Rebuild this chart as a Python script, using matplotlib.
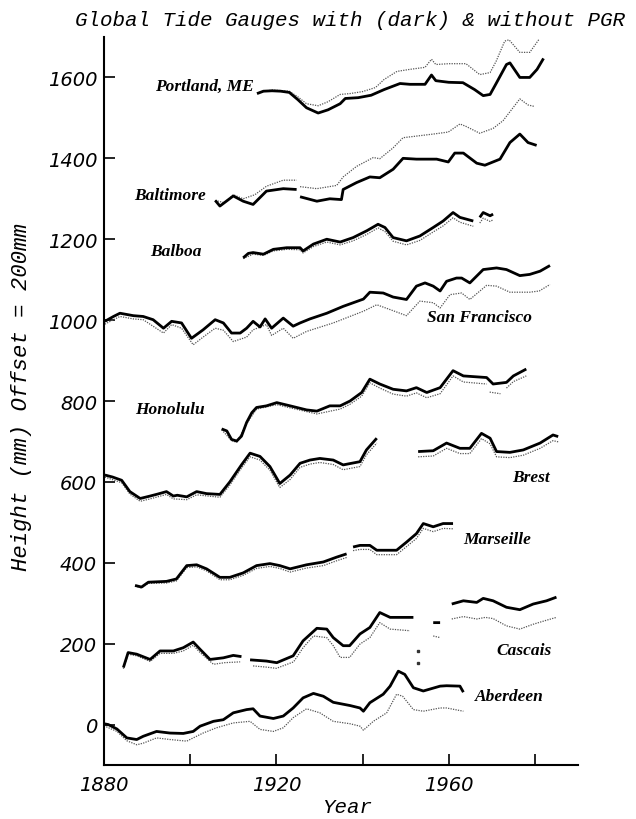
import numpy as np
import matplotlib
matplotlib.use("Agg")
import matplotlib.pyplot as plt

nan = np.nan

# Dados: (ano, altura em mm, já com offset de 200mm entre estações)
# "dark" = com correção PGR, "light" = sem correção
portland_dark_x = [1915.5, 1917, 1919, 1921, 1923, 1925, 1927, 1929.7, 1932, 1934.8, 1936, 1939, 1942, 1945,
                   1948.7, 1951, 1954.5, 1956, 1957, 1960, 1963.3, 1966, 1968, 1969.6, 1971, 1973.4, 1974.2,
                   1976.5, 1978.8, 1980.5, 1982]
portland_dark_y = [1560, 1566, 1567, 1566, 1563, 1545, 1525, 1512, 1520, 1535, 1548, 1550, 1556, 1570,
                   1585, 1583, 1583, 1606, 1592, 1588, 1587, 1570, 1555, 1558, 1585, 1632, 1636,
                   1600, 1600, 1620, 1647]
portland_light_x = [1915.5, 1919, 1923, 1925, 1927, 1929.7, 1932, 1934.8, 1937, 1940, 1943, 1945, 1948, 1951,
                    1954.5, 1956, 1957, 1960, 1964, 1967.2, 1969.6, 1971, 1973, 1974, 1976.5, 1978.8, 1981]
portland_light_y = [1562, 1569, 1566, 1552, 1535, 1530, 1540, 1558, 1560, 1565, 1575, 1595, 1615, 1620,
                    1625, 1645, 1632, 1634, 1634, 1607, 1612, 1640, 1690, 1693, 1662, 1662, 1695]

baltimore_dark_x = [1905.8, 1906.9, 1910, 1912.3, 1914.6, 1917.7, 1921.6, 1924.7, nan, 1925.5, 1929.4, 1932.4,
                    1935.1, 1935.5, 1938.6, 1941.7, 1944, 1947.1, 1949.4, 1952.5, 1957.2, 1959.9, 1961.4,
                    1963.4, 1966.5, 1968.4, 1971.9, 1974.2, 1976.5, 1978.4, 1980.4]
baltimore_dark_y = [1296, 1282, 1307, 1294, 1286, 1319, 1325, 1323, nan, 1305, 1294, 1300,
                    1298, 1323, 1340, 1354, 1352, 1373, 1400, 1398, 1398, 1391, 1413,
                    1413, 1388, 1383, 1398, 1439, 1460, 1439, 1432]
baltimore_light_x = [1905.8, 1908, 1910, 1912.3, 1915, 1917.7, 1921.6, 1924.7, nan, 1925.5, 1929.4, 1934,
                     1935.5, 1938.6, 1942.5, 1944, 1947.1, 1949.4, 1956.4, 1959.9, 1962.6, 1964, 1967.2,
                     1970.3, 1972.6, 1976.5, 1978.4, 1980]
baltimore_light_y = [1296, 1290, 1310, 1300, 1310, 1331, 1346, 1346, nan, 1330, 1325, 1333,
                     1354, 1380, 1402, 1399, 1426, 1451, 1460, 1465, 1485, 1479, 1462,
                     1474, 1493, 1547, 1532, 1528]

balboa_dark_x = [1912.3, 1913.5, 1914.6, 1917, 1919.3, 1922.4, 1925.5, 1926.2, 1928.6, 1931.7, 1934.8, 1937.8,
                 1941, 1943.6, 1945.2, 1947.1, 1950.2, 1953.3, 1956.4, 1958.7, 1961, 1962.6, 1965.7, nan,
                 1967.2, 1968, 1969.6, 1970.3]
balboa_dark_y = [1154, 1165, 1167, 1163, 1175, 1179, 1179, 1171, 1188, 1200, 1193, 1204,
                 1221, 1237, 1229, 1204, 1196, 1208, 1229, 1245, 1266, 1254, 1245, nan,
                 1254, 1266, 1258, 1262]
balboa_light_x = [1912.3, 1914.6, 1917, 1919.3, 1922.4, 1925.5, 1926.2, 1928.6, 1931.7, 1934.8, 1937.8,
                  1941, 1943.6, 1945.2, 1947.1, 1950.2, 1953.3, 1956.4, 1958.7, 1961, 1962.6, 1965.7, nan,
                  1967.2, 1968, 1969.6, 1970.3]
balboa_light_y = [1152, 1163, 1160, 1171, 1175, 1174, 1166, 1182, 1193, 1186, 1196,
                  1212, 1228, 1219, 1195, 1186, 1197, 1218, 1233, 1253, 1242, 1232, nan,
                  1240, 1252, 1244, 1248]

sf_dark_x = [1880.2, 1882.2, 1883.7, 1886.8, 1889.1, 1891.4, 1893.8, 1895.7, 1898, 1900.3, 1903, 1905.8,
             1907.7, 1909.6, 1911.6, 1913.1, 1914.6, 1916.2, 1917.4, 1918.9, 1921.6, 1923.9, 1925.5, 1927.8,
             1931.7, 1935.5, 1940.2, 1941.7, 1944.8, 1947.1, 1950.2, 1952.5, 1954.5, 1956.4, 1958, 1959.5,
             1961.8, 1963, 1964.9, 1968, 1971.1, 1973.4, 1976.5, 1978.8, 1981.2, 1983.5]
sf_dark_y = [997, 1009, 1017, 1011, 1009, 1001, 980, 997, 993, 955, 976, 1001,
             993, 968, 968, 980, 997, 983, 1003, 980, 1005, 985, 993, 1003,
             1017, 1034, 1052, 1069, 1067, 1057, 1051, 1084, 1092, 1084, 1072, 1096,
             1104, 1104, 1092, 1125, 1129, 1125, 1110, 1113, 1121, 1135]
sf_light_x = [1880.2, 1882, 1883.7, 1886.8, 1889.1, 1893.8, 1895.7, 1898, 1900.7, 1903, 1905.8, 1907.7,
              1910, 1913.1, 1914.6, 1917.7, 1918.9, 1921.6, 1923.9, 1927, 1933.2, 1940.2, 1943.3, 1946.4,
              1950.2, 1953.3, 1956.4, 1958, 1960.3, 1963, 1964.9, 1968.8, 1971.1, 1974.2, 1978.8, 1981,
              1983.5]
sf_light_y = [990, 1000, 1009, 1003, 1001, 968, 989, 980, 939, 958, 980, 975,
              947, 958, 976, 989, 962, 980, 955, 972, 993, 1022, 1038, 1026,
              1011, 1047, 1043, 1030, 1063, 1067, 1051, 1086, 1084, 1069, 1069, 1072,
              1088]

honolulu_dark_x = [1907.3, 1908.5, 1909.6, 1910.8, 1911.9, 1913.1, 1914.3, 1915.4, 1917.7, 1920.1, 1923.2,
                   1927, 1929.4, 1932.4, 1934.8, 1937.1, 1939.8, 1941.7, 1944, 1947.1, 1950.2, 1952.5,
                   1954.9, 1958, 1961, 1963.4, 1968.8, 1970.3, 1973.4, 1975, 1978]
honolulu_dark_y = [731, 726, 705, 701, 713, 747, 771, 784, 788, 796, 788,
                   778, 775, 788, 788, 800, 821, 854, 842, 829, 825, 833,
                   821, 833, 875, 862, 858, 842, 846, 862, 879]
honolulu_light_x = [1907.3, 1909.6, 1910.8, 1913.1, 1915.4, 1920.1, 1923.2, 1929.4, 1934.8, 1937.1, 1939.8,
                    1941.7, 1944, 1947.1, 1950.2, 1952.5, 1954.9, 1958, 1961, 1963.4, 1968.8, nan,
                    1969.5, 1972, nan, 1973.4, 1975, 1978]
honolulu_light_y = [729, 702, 698, 744, 780, 791, 783, 768, 780, 792, 812,
                    845, 832, 817, 812, 820, 808, 818, 862, 847, 842, nan,
                    822, 818, nan, 832, 848, 862]

brest_dark_x = [1880.2, 1882, 1884.1, 1886, 1888.4, 1890.7, 1892.5, 1894.5, 1896.1, 1897, 1899.2, 1901.5,
                1903.8, 1906.9, 1909.2, 1911.9, 1913.9, 1916.2, 1918.5, 1920.8, 1923.2, 1925.5, 1927.8,
                1930.1, 1933.2, 1935.5, 1939.4, 1940.9, 1943.3, nan, 1952.9, 1956.4, 1959.5, 1962.6,
                1964.9, 1967.6, 1969.6, 1971.1, 1974.2, 1977.3, 1981.2, 1984.2, 1985.4]
brest_dark_y = [617, 612, 604, 576, 559, 565, 570, 576, 565, 567, 563, 576,
                571, 569, 600, 642, 671, 663, 638, 596, 617, 646, 654,
                658, 654, 642, 650, 679, 708, nan, 675, 677, 696, 683,
                683, 720, 708, 675, 673, 679, 696, 716, 712]
brest_light_x = [1880.2, 1884.1, 1886, 1888.4, 1890.7, 1894.5, 1896.1, 1899.2, 1901.5, 1906.9, 1909.2,
                 1911.9, 1913.9, 1916.2, 1918.5, 1920.8, 1923.2, 1925.5, 1927.8, 1930.1, 1933.2, 1935.5,
                 1939.4, 1940.9, 1943.3, nan, 1952.9, 1956.4, 1959.5, 1962.6, 1964.9, 1967.6, 1969.6,
                 1971.1, 1974.2, 1977.3, 1981.2, 1984.2, 1985.4]
brest_light_y = [612, 598, 570, 552, 558, 569, 558, 556, 568, 562, 592,
                 634, 662, 654, 629, 586, 606, 636, 644, 648, 643, 630,
                 638, 667, 696, nan, 662, 664, 683, 670, 670, 707, 694,
                 662, 660, 666, 683, 702, 699]

marseille_x = [1887.2, 1888.7, 1890.3, 1894.5, 1896.8, 1899.2, 1901.5, 1903.8, 1906.9, 1909.2, 1912.3,
               1915.4, 1918.5, 1920.8, 1923.2, 1927, 1930.9, 1934, 1936.3, nan, 1937.8, 1939.4, 1941.7,
               1943.3, 1947.9, 1950.2, 1952.5, 1954.1, 1956.4, 1958.7, 1961]
marseille_dark_y = [344, 340, 352, 354, 360, 393, 395, 385, 364, 364, 375,
                    393, 398, 393, 385, 395, 402, 414, 422, nan, 439, 443, 443,
                    431, 431, 451, 472, 497, 489, 497, 497]
marseille_light_y = [342, 338, 349, 350, 355, 388, 390, 380, 358, 358, 369,
                     386, 391, 386, 377, 387, 393, 405, 413, nan, 430, 433, 433,
                     420, 420, 440, 460, 485, 477, 485, 484]

cascais_dark_x = [1884.5, 1885.6, 1887.6, 1890.7, 1893, 1896.1, 1898.4, 1900.7, 1902.3, 1904.6, 1907.7, 1910,
                  1911.9, nan, 1913.9, 1917.7, 1920.1, 1923.9, 1926.2, 1929.4, 1931.7, 1933.2, 1935.5, 1937,
                  1939.4, 1941.7, 1944, 1946.4, 1951.8, nan, 1956.4, 1958, nan, 1960.7, 1963.4, 1966.5,
                  1968, 1970.3, 1973.4, 1976.5, 1979.6, 1982.7, 1985]
cascais_dark_y = [141, 178, 174, 161, 182, 182, 190, 204, 186, 161, 165, 171,
                  168, nan, 160, 157, 153, 170, 207, 238, 236, 215, 195, 195,
                  224, 240, 277, 265, 265, nan, 252, 252, nan, 298, 306, 302,
                  312, 306, 290, 284, 298, 306, 315]
cascais_light_x = [1884.5, 1885.6, 1887.6, 1890.7, 1893, 1896.1, 1898.4, 1900.7, 1902.3, 1905.4, 1908, 1911.6,
                   nan, 1914.6, 1917.7, 1920, 1924, 1926.2, 1928.6, 1931.7, 1933.2, 1934.8, 1937, 1939.4,
                   1941.7, 1944, 1946.4, 1951, nan, 1956.4, 1958, nan, 1960.7, 1963.4, 1966.5, 1968.5,
                   1970.3, 1973.4, 1976.5, 1979.6, 1982.7, 1985]
cascais_light_y = [138, 174, 170, 156, 176, 176, 182, 196, 178, 149, 153, 155,
                   nan, 145, 142, 139, 155, 190, 219, 215, 195, 166, 166, 199,
                   215, 252, 236, 232, nan, 219, 215, nan, 261, 267, 261, 265,
                   262, 244, 236, 248, 258, 265]
cascais_isolados_x = [1952.9, 1952.9]
cascais_isolados_y = [182, 153]

aberdeen_dark_x = [1880, 1881, 1883, 1885.3, 1887.6, 1889.1, 1892.2, 1895.3, 1898.4, 1900.7, 1902.3, 1905.4,
                   1907.7, 1910, 1913.1, 1914.6, 1916.2, 1919.3, 1921.6, 1923.9, 1926.2, 1928.6, 1930.9,
                   1933.2, 1937.1, 1939.4, 1940.2, 1941.7, 1944.8, 1946.4, 1948.3, 1949.8, 1951.8, 1954.1,
                   1958, 1959.5, 1962.6, 1963.4]
aberdeen_dark_y = [2, 0, -11, -33, -37, -29, -17, -21, -22, -17, -4, 8,
                   12, 29, 37, 39, 21, 15, 21, 41, 66, 77, 70,
                   55, 47, 41, 33, 54, 75, 95, 132, 124, 91, 83,
                   95, 96, 95, 80]
aberdeen_light_x = [1880, 1883, 1885.3, 1887.6, 1889.1, 1892.2, 1895.3, 1899.2, 1900.7, 1903, 1906.1, 1910,
                    1913.9, 1916.2, 1919.3, 1921.6, 1923.9, 1927, 1930.1, 1933.2, 1937.1, 1939.4, 1940.2,
                    1942.5, 1945.6, 1947.9, 1949.3, 1951.8, 1954.1, 1958, 1959.5, 1963.4]
aberdeen_light_y = [-3, -17, -40, -50, -46, -33, -37, -41, -33, -21, -8, 4,
                    8, -12, -17, -8, 17, 39, 29, 8, 2, -4, -14,
                    8, 29, 75, 70, 37, 33, 41, 41, 33]

# Nomes das estações e posição do rótulo (ano, mm)
nomes = ["Portland, ME", "Baltimore", "Balboa", "San Francisco", "Honolulu",
         "Brest", "Marseille", "Cascais", "Aberdeen"]
rotulo_x = [1903.4, 1895.3, 1896.7, 1967.2, 1895.3, 1979.0, 1971.2, 1977.4, 1974.0]
rotulo_y = [1580, 1310, 1170, 1008, 780, 612, 458, 185, 70]

series = [
    (portland_dark_x, portland_dark_y, portland_light_x, portland_light_y),
    (baltimore_dark_x, baltimore_dark_y, baltimore_light_x, baltimore_light_y),
    (balboa_dark_x, balboa_dark_y, balboa_light_x, balboa_light_y),
    (sf_dark_x, sf_dark_y, sf_light_x, sf_light_y),
    (honolulu_dark_x, honolulu_dark_y, honolulu_light_x, honolulu_light_y),
    (brest_dark_x, brest_dark_y, brest_light_x, brest_light_y),
    (marseille_x, marseille_dark_y, marseille_x, marseille_light_y),
    (cascais_dark_x, cascais_dark_y, cascais_light_x, cascais_light_y),
    (aberdeen_dark_x, aberdeen_dark_y, aberdeen_light_x, aberdeen_light_y),
]

fig = plt.figure(figsize=(6.36, 8.2), dpi=100, facecolor="white")
ax = fig.add_axes([104 / 636, 1 - 766 / 820, (578 - 104) / 636, (766 - 38) / 820])

# curvas: clara pontilhada (sem PGR) e escura grossa (com PGR)
for dx, dy, lx, ly in series:
    ax.plot(lx, ly, color="#555555", lw=0.9, linestyle=(0, (1, 1)), zorder=2)
    ax.plot(dx, dy, color="black", lw=2.0, solid_capstyle="butt", zorder=3)
ax.plot(cascais_isolados_x, cascais_isolados_y, ls="none", marker="s", ms=1.5, color="#333333")

for nome, x, y in zip(nomes, rotulo_x, rotulo_y):
    ax.text(x, y, nome, ha="center", va="center", fontsize=12.5,
            family="Liberation Serif", style="italic", weight="bold")

ax.set_xlim(1880, 1990)
ax.set_ylim(-100, 1700)
ax.set_xticks([1880, 1900, 1920, 1940, 1960, 1980])
ax.set_xticklabels(["1880", "", "1920", "", "1960", ""])
ax.set_yticks(range(0, 1601, 200))

for s in ["top", "right"]:
    ax.spines[s].set_visible(False)
for s in ["left", "bottom"]:
    ax.spines[s].set_linewidth(1.5)

ax.tick_params(direction="in", length=8, width=1.2, labelsize=14)
ax.tick_params(axis="y", pad=5)
ax.tick_params(axis="x", pad=7)
for lbl in ax.get_xticklabels() + ax.get_yticklabels():
    lbl.set_fontstyle("oblique")
    lbl.set_family("DejaVu Sans")

fonte_titulo = dict(family="Liberation Mono", style="italic", fontsize=15)
fig.text(350 / 636, 1 - 20 / 820, "Global Tide Gauges with (dark) & without PGR",
         ha="center", va="center", **fonte_titulo)
fig.text(347 / 636, 1 - 808 / 820, "Year", ha="center", va="center", **fonte_titulo)
fig.text(22 / 636, 1 - 397 / 820, "Height (mm) Offset = 200mm", rotation=90,
         ha="center", va="center", family="Liberation Mono", style="italic", fontsize=16)

fig.savefig("out.png", dpi=100, facecolor="white")
